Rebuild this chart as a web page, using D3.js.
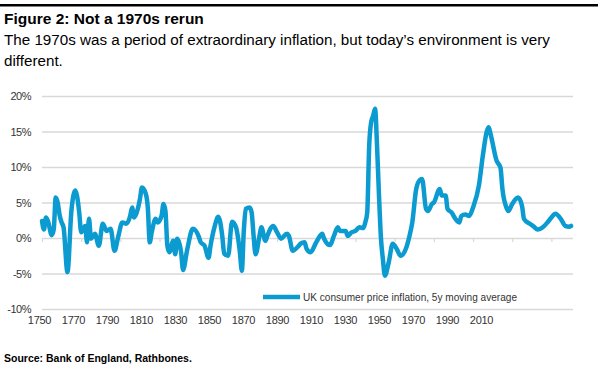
<!DOCTYPE html>
<html>
<head>
<meta charset="utf-8">
<script src="https://cdn.jsdelivr.net/npm/d3@7"></script>
<style>
  body { margin: 0; background: #fff; }
  svg { display: block; font-family: "Liberation Sans", Arial, sans-serif; }
</style>
</head>
<body>
<div id="chart"></div>
<script>
// UK consumer price inflation, 5y moving average
var years = [1750, 1751, 1752, 1753, 1755, 1756, 1757, 1758, 1759, 1760, 1761, 1763, 1765, 1767, 1769, 1770,
    1771, 1772, 1773, 1774, 1775, 1777, 1779, 1781, 1783, 1785, 1787, 1789, 1791, 1793, 1795, 1796,
    1797, 1799, 1800, 1801, 1803, 1804, 1805, 1806, 1808, 1809, 1811, 1812, 1813, 1814, 1815, 1817,
    1818, 1819, 1821, 1822, 1824, 1827, 1830, 1831, 1833, 1835, 1836, 1838, 1840, 1842, 1843, 1845,
    1847, 1849, 1851, 1852, 1853, 1854, 1856, 1857, 1858, 1859, 1861, 1862, 1864, 1865, 1868, 1870,
    1872, 1875, 1876, 1878, 1881, 1882, 1884, 1885, 1887, 1890, 1893, 1894, 1897, 1899, 1901, 1902,
    1905, 1906, 1908, 1910, 1912, 1914, 1915, 1916, 1917, 1918, 1919, 1920, 1921, 1922, 1923, 1924,
    1925, 1927, 1929, 1931, 1933, 1936, 1938, 1939, 1941, 1943, 1944, 1946, 1947, 1949, 1950, 1953,
    1954, 1956, 1957, 1959, 1961, 1963, 1964, 1966, 1968, 1970, 1973, 1975, 1977, 1978, 1979, 1982,
    1984, 1985, 1987, 1988, 1990, 1993, 1995, 1996, 1999, 2001, 2003, 2005, 2008, 2010, 2012, 2015,
    2017, 2019, 2020];
var values = [2.4, 1.2, 2.9, 2.4, 0.4, 1.2, 5.7, 5.0, 3.2, 2.2, 1.5, -4.8, 3.8, 6.7, 3.6, 0.8,
    1.2, 1.7, -0.6, 2.7, -0.1, 0.6, -1.1, 2.0, 1.0, 1.3, -1.8, 0.3, 2.2, 2.0, 3.1, 4.3,
    2.9, 4.2, 5.5, 7.1, 6.2, 4.3, -0.6, 0.8, 2.7, 2.2, 3.1, 4.8, 3.8, -1.1, -2.0, -0.4,
    -2.3, -0.1, -2.0, -4.5, -1.8, 1.3, 0.2, -0.6, -1.1, -2.8, -1.1, 1.5, 3.0, 0.3, -2.2, -2.5,
    2.3, 1.5, -2.0, -4.6, 1.0, 4.1, 4.3, 3.6, 0.3, -2.3, 0.3, 1.5, -0.4, 0.3, 1.7, 0.8,
    -0.1, 0.6, 0.3, -1.8, -1.1, -0.8, -0.6, -1.5, -2.0, -0.6, 0.6, -0.1, -1.0, 0.3, 1.5, 1.0,
    1.0, 0.3, 0.8, 1.0, 1.5, 1.4, 2.2, 3.6, 13.0, 16.3, 17.2, 18.2, 13.0, 6.0, 0.0, -3.0,
    -5.3, -3.4, -0.8, -1.5, -2.5, -1.3, 0.8, 2.2, 6.9, 8.2, 8.3, 4.1, 3.8, 4.8, 5.0, 6.9,
    6.0, 6.0, 4.1, 3.6, 2.7, 2.2, 3.1, 3.3, 3.1, 4.3, 7.4, 11.6, 15.0, 15.6, 14.6, 10.9,
    9.9, 6.9, 4.3, 3.8, 4.8, 5.7, 4.5, 2.7, 2.0, 1.6, 1.2, 1.4, 2.2, 2.9, 3.4, 2.6,
    1.7, 1.6, 1.7];
var tickYears = [1750, 1770, 1790, 1810, 1830, 1850, 1870, 1890, 1910, 1930, 1950, 1970, 1990, 2010];
var tickLabels = ["1750", "1770", "1790", "1810", "1830", "1850", "1870", "1890", "1910", "1930", "1950", "1970", "1990", "2010"];
var yTicks = [-10, -5, 0, 5, 10, 15, 20];
var seriesName = "UK consumer price inflation, 5y moving average";

var width = 600;
var height = 373;
var blue = "#0b9bd1";
var grid = "#d9d9d9";

var data = years.map(function (d, i) {
    return { year: d, value: values[i] };
});

var svg = d3.select('#chart')
    .append('svg')
    .attr('width', width)
    .attr('height', height);

var x = d3.scaleLinear()
    .domain([1750, 2020])
    .range([42, 571]);

var y = d3.scaleLinear()
    .domain([-10, 20])
    .range([309, 96]);

// the category labels under the plot are squeezed to the left in the original
var xLabel = d3.scalePoint()
    .domain(tickLabels)
    .range([39, 481]);

// header
svg.append('rect')
    .attr('x', 0)
    .attr('y', 4)
    .attr('width', 598)
    .attr('height', 2.5)
    .attr('fill', '#000');

svg.append('text')
    .attr('x', 4)
    .attr('y', 24)
    .attr('font-size', '15.5px')
    .attr('font-weight', 'bold')
    .attr('fill', '#000')
    .text('Figure 2: Not a 1970s rerun');

svg.append('text')
    .attr('x', 4)
    .attr('y', 45)
    .attr('font-size', '15.2px')
    .attr('fill', '#000')
    .text('The 1970s was a period of extraordinary inflation, but today\u2019s environment is very');

svg.append('text')
    .attr('x', 4)
    .attr('y', 66)
    .attr('font-size', '15.2px')
    .attr('fill', '#000')
    .text('different.');

// y axis + gridlines
var yAxis = svg.append('g')
    .attr('transform', 'translate(42,0)')
    .call(d3.axisLeft(y)
        .tickValues(yTicks)
        .tickSize(-531)
        .tickPadding(11)
        .tickFormat(function (d) { return d + '%'; }));

yAxis.select('.domain').remove();
yAxis.selectAll('.tick line')
    .attr('stroke', grid)
    .attr('stroke-width', 1.5);
yAxis.selectAll('.tick text')
    .attr('font-size', '11px')
    .attr('fill', '#333')
    .attr('letter-spacing', '-0.5px')
    .attr('font-family', '"Liberation Sans", Arial, sans-serif');

// small tick marks on the zero line
var xAxis = svg.append('g')
    .attr('transform', 'translate(0,' + y(0) + ')')
    .call(d3.axisBottom(x)
        .tickValues(tickYears)
        .tickSize(4)
        .tickFormat(''));

xAxis.select('.domain').remove();
xAxis.selectAll('.tick line')
    .attr('stroke', grid)
    .attr('stroke-width', 1.2);

// x labels
var xLabels = svg.append('g')
    .attr('transform', 'translate(0,316)')
    .call(d3.axisBottom(xLabel).tickSize(0).tickPadding(0));

xLabels.select('.domain').remove();
xLabels.selectAll('.tick text')
    .attr('font-size', '11px')
    .attr('fill', '#333')
    .attr('font-family', '"Liberation Sans", Arial, sans-serif')
    .attr('letter-spacing', '-0.3px');

// the series
var line = d3.line()
    .x(function (d) { return x(d.year); })
    .y(function (d) { return y(d.value); })
    .curve(d3.curveMonotoneX);

svg.append('path')
    .datum(data)
    .attr('d', line)
    .attr('fill', 'none')
    .attr('stroke', blue)
    .attr('stroke-width', 4.5)
    .attr('stroke-linejoin', 'round')
    .attr('stroke-linecap', 'round');

// legend
var legend = svg.append('g')
    .attr('transform', 'translate(263,297)');

legend.append('line')
    .attr('x1', 0)
    .attr('x2', 37)
    .attr('y1', 0)
    .attr('y2', 0)
    .attr('stroke', blue)
    .attr('stroke-width', 4.5);

legend.append('text')
    .attr('x', 40)
    .attr('y', 4)
    .attr('font-size', '11px')
    .attr('fill', '#333')
    .attr('textLength', 214)
    .attr('lengthAdjust', 'spacingAndGlyphs')
    .text(seriesName);

// footer
svg.append('text')
    .attr('x', 4)
    .attr('y', 362)
    .attr('font-size', '10.5px')
    .attr('font-weight', 'bold')
    .attr('fill', '#000')
    .text('Source: Bank of England, Rathbones.');
</script>
</body>
</html>
